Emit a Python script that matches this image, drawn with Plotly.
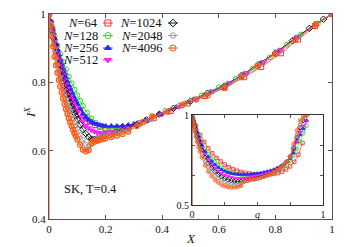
import plotly.graph_objects as go

FONT = "Liberation Serif"

# ---------------- data ----------------
sizes = ["64", "128", "256", "512", "1024", "2048", "4096"]
colors = ["#ff3030", "#22dd22", "#2828ff", "#ff20ff", "#111111", "#9a9a9a", "#ff5a14"]
symbols = ["square-open", "circle-open", "triangle-up", "triangle-down",
           "diamond-open", "pentagon-open", "circle-open-dot"]

# main panel: X and I^X
X_dense = [0, .005, .01, .015, .02, .025, .03, .035, .04, .045, .05, .055, .06, .065,
           .07, .075, .08, .085, .09, .095, .10, .11, .12, .13, .14, .15, .16, .17,
           .18, .19, .20, .22, .24, .26, .28]

X_64 = [0, .012, .025, .038, .05, .065, .08, .095, .11, .128, .145, .163, .18, .2, .225,
        .25, .28, .32, .37, .43, .49, .55, .62, .69, .75, .82, .88, .94, 1.0]
I_64 = [1.0, .955, .905, .855, .812, .782, .757, .738, .72, .698, .685, .675, .67, .666,
        .665, .666, .669, .68, .695, .716, .738, .76, .784, .815, .845, .885, .925, .965, 1.0]

X_128 = [0, .01, .02, .03, .04, .05, .06, .07, .08, .09, .10, .11, .12, .135, .15, .165,
         .18, .20, .22, .24, .26, .28, .31, .36, .42, .48, .54, .60, .66, .72, .78, .84,
         .89, .95, 1.0]
I_128 = [1.0, .965, .935, .908, .883, .86, .838, .817, .797, .779, .762, .746, .731, .711,
         .694, .681, .672, .666, .664, .664, .666, .669, .676, .692, .714, .738, .762, .785,
         .81, .84, .873, .91, .94, .972, 1.0]

X_256_up = [.30, .34, .39, .45, .51, .57, .63, .69, .75, .81, .87, .94, 1.0]
I_256 = [1.0, .981, .963, .945, .928, .912, .896, .881, .866, .852, .839, .826, .814, .802,
         .791, .781, .771, .761, .752, .744, .736, .721, .708, .698, .69, .684, .68, .677,
         .675, .673, .672, .672, .672, .673, .675,
         .678, .69, .707, .728, .75, .772, .796, .826, .858, .892, .93, .97, 1.0]

X_512_up = [.31, .35, .40, .46, .52, .58, .64, .70, .76, .82, .88, .94, 1.0]
I_512 = [1.0, .978, .957, .937, .918, .9, .883, .866, .85, .835, .821, .807, .794, .782,
         .77, .759, .749, .739, .73, .721, .713, .698, .685, .674, .666, .66, .656, .653,
         .652, .652, .653, .655, .658, .662, .667,
         .675, .688, .706, .728, .751, .774, .798, .828, .86, .896, .934, .968, 1.0]

X_1024_up = [.31, .345, .39, .44, .50, .56, .62, .68, .74, .80, .86, .92, .97, 1.0]
I_1024 = [1.0, .975, .952, .93, .909, .889, .87, .852, .835, .819, .804, .79, .777, .764,
          .752, .741, .73, .72, .71, .701, .692, .676, .662, .65, .64, .634, .633, .635,
          .638, .641, .644, .649, .654, .659, .665,
          .676, .69, .707, .724, .745, .768, .789, .82, .852, .886, .922, .958, .985, 1.0]

X_2048_up = [.32, .36, .41, .46, .51, .57, .63, .69, .75, .81, .88, .94, 1.0]
I_2048 = [1.0, .97, .945, .92, .895, .872, .851, .832, .814, .797, .781, .766, .752, .739,
          .727, .715, .704, .693, .683, .673, .664, .647, .632, .619, .614, .618, .63, .636,
          .64, .643, .646, .65, .654, .658, .663,
          .677, .692, .717, .733, .75, .77, .793, .824, .857, .89, .932, .968, 1.0]

X_4096_up = [.31, .333, .365, .42, .47, .52, .56, .62, .68, .737, .80, .87, .943, 1.0]
I_4096 = [1.0, .965, .935, .905, .875, .85, .828, .807, .788, .77, .753, .737, .722, .708,
          .695, .683, .672, .661, .651, .642, .633, .617, .603, .598, .602, .622, .626, .629,
          .632, .634, .636, .64, .644, .649, .656,
          .672, .684, .70, .714, .733, .75, .762, .785, .815, .848, .883, .925, .97, 1.0]

main_X = [X_64, X_128, X_dense + X_256_up, X_dense + X_512_up, X_dense + X_1024_up,
          X_dense + X_2048_up, X_dense + X_4096_up]
main_I = [I_64, I_128, I_256, I_512, I_1024, I_2048, I_4096]

# inset: I^X versus q
q_64 = [0, .031, .063, .094, .125, .156, .188, .219, .25, .281, .313, .344, .375, .406,
        .438, .469, .5, .531, .563, .594, .625, .656, .688, .719, .75, .781, .813, .844]
Iq_64 = [1.0, .94, .89, .85, .815, .787, .762, .742, .725, .711, .7, .691, .684, .679,
         .675, .672, .67, .669, .669, .67, .673, .678, .686, .698, .715, .74, .78, .845]

q_grid = [0, .005, .01, .015, .02, .03, .04, .05, .06, .075, .1, .125, .15, .175, .2, .225,
          .25, .275, .3, .325, .35, .375, .4, .425, .45, .475, .5, .525, .55, .575, .6,
          .625, .65, .675, .7, .725, .75, .775, .8, .825, .85, .875]
Iq_128 = [1.0, .987, .975, .964, .953, .932, .912, .893, .875, .85, .815, .785, .76, .74,
          .722, .708, .697, .688, .681, .676, .672, .669, .667, .666, .666, .667, .668, .67,
          .673, .677, .682, .688, .695, .703, .713, .726, .745, .775, .81, .855, .9, .94]
Iq_256 = [1.0, .985, .972, .96, .948, .925, .902, .88, .86, .833, .797, .767, .743, .724,
          .709, .697, .688, .681, .676, .673, .671, .67, .67, .671, .672, .674, .676, .679,
          .683, .687, .692, .698, .706, .715, .726, .74, .76, .79, .85, .89, .925, .97]
Iq_512 = [1.0, .983, .968, .955, .942, .915, .89, .868, .848, .82, .782, .751, .726, .706,
          .69, .677, .667, .66, .654, .65, .648, .648, .649, .651, .654, .657, .661, .665,
          .67, .675, .682, .69, .699, .71, .724, .742, .765, .805, .855, .905, .94, .965]
Iq_1024 = [1.0, .98, .965, .95, .935, .905, .88, .855, .833, .805, .765, .732, .706, .686,
           .67, .657, .647, .64, .635, .632, .631, .632, .634, .637, .641, .645, .649, .654,
           .66, .666, .674, .684, .695, .708, .723, .742, .77, .815, .875, .93, .97, .998]
Iq_2048 = [1.0, .978, .96, .942, .925, .893, .865, .838, .815, .785, .742, .708, .683, .663,
           .648, .636, .627, .62, .615, .613, .613, .616, .63, .634, .638, .642, .646, .651,
           .657, .664, .672, .682, .694, .707, .722, .741, .768, .825, .89, .945, .985, 1.0]
Iq_4096 = [1.0, .975, .955, .935, .915, .88, .85, .822, .798, .765, .72, .685, .66, .64,
           .625, .613, .605, .60, .597, .597, .60, .606, .632, .636, .64, .643, .646, .652,
           .658, .665, .673, .683, .695, .708, .723, .742, .772, .84, .915, .97, .995, 1.0]

inset_q = [q_64] + [q_grid] * 6
inset_I = [Iq_64, Iq_128, Iq_256, Iq_512, Iq_1024, Iq_2048, Iq_4096]

x_ticks = [0, 0.2, 0.4, 0.6, 0.8, 1]
x_ticklabels = ["0", "0.2", "0.4", "0.6", "0.8", "1"]
y_ticks = [0.4, 0.6, 0.8, 1]
y_ticklabels = ["0.4", "0.6", "0.8", "1"]
q_ticks = [0, 0.25, 0.5, 0.75, 1]
q_ticklabels = ["0", " ", "<i>q</i>", " ", "1"]
iy_ticks = [0.5, 0.6667, 0.8333, 1]
iy_ticklabels = ["0.5", " ", " ", "1"]

# ---------------- figure ----------------
fig = go.Figure()

for i in range(len(sizes)):
    fig.add_trace(go.Scatter(
        x=main_X[i], y=main_I[i], mode="lines+markers",
        line=dict(color=colors[i], width=0.8),
        marker=dict(symbol=symbols[i], size=5, color=colors[i],
                    line=dict(color=colors[i], width=1.3 if i == 6 else 1)),
        xaxis="x", yaxis="y", showlegend=False, hoverinfo="skip"))

for i in range(len(sizes)):
    fig.add_trace(go.Scatter(
        x=inset_q[i], y=inset_I[i], mode="lines+markers",
        line=dict(color=colors[i], width=0.7),
        marker=dict(symbol=symbols[i], size=3.5, color=colors[i],
                    line=dict(color=colors[i], width=0.9)),
        xaxis="x2", yaxis="y2", showlegend=False, hoverinfo="skip"))

# legend keys (text left of symbol, two columns); key axes x3/y3 span the main plot area
col_text = [0.177, 0.403]
col_key = [0.208, 0.438]
row_y = [0.956, 0.895, 0.834, 0.776]
annotations = []
for i, n in enumerate(sizes):
    c, r = divmod(i, 4)
    annotations.append(dict(x=col_text[c], y=row_y[r], xref="paper", yref="paper",
                            text="<i>N</i>=" + n, showarrow=False, xanchor="right",
                            yanchor="middle", borderpad=0,
                            font=dict(family=FONT, size=12.5, color="#111")))
    fig.add_trace(go.Scatter(
        x=[col_key[c]], y=[row_y[r]], mode="markers",
        marker=dict(symbol="line-ew", size=7, line=dict(color=colors[i], width=1)),
        xaxis="x3", yaxis="y3", showlegend=False, hoverinfo="skip", cliponaxis=False))
    fig.add_trace(go.Scatter(
        x=[col_key[c]], y=[row_y[r]], mode="markers",
        marker=dict(symbol=symbols[i], size=6, color=colors[i],
                    line=dict(color=colors[i], width=1)),
        xaxis="x3", yaxis="y3", showlegend=False, hoverinfo="skip", cliponaxis=False))

annotations += [
    dict(x=0.045, y=0.487, xref="x", yref="y", text="SK, T=0.4", showarrow=False,
         xanchor="left", yanchor="middle", font=dict(family=FONT, size=12.5, color="#111")),
    dict(x=-0.067, y=0.517, xref="paper", yref="paper",
         text="<i>I</i><sup><i>X</i></sup>", showarrow=False, textangle=-90,
         xanchor="center", yanchor="middle", font=dict(family=FONT, size=13, color="#111")),
    dict(x=0.5, y=-0.093, xref="paper", yref="paper", text="<i>X</i>", showarrow=False,
         xanchor="center", yanchor="middle", font=dict(family=FONT, size=13, color="#111")),
]

axis_common = dict(showgrid=False, zeroline=False, showline=True, ticks="inside",
                   mirror="ticks", automargin=False)
small_font = dict(family=FONT, size=10, color="#111")
big_font = dict(family=FONT, size=11, color="#111")

fig.update_layout(
    width=353, height=247, autosize=False,
    margin=dict(l=49, r=21, t=14, b=28, autoexpand=False),
    paper_bgcolor="white", plot_bgcolor="white",
    font=dict(family=FONT, color="#111"),
    xaxis=dict(domain=[0, 1], range=[0, 1], tickvals=x_ticks, ticktext=x_ticklabels,
               linecolor="#555", linewidth=1, ticklen=4, tickcolor="#555",
               tickfont=big_font, **axis_common),
    yaxis=dict(domain=[0, 1], range=[0.4, 1], tickvals=y_ticks, ticktext=y_ticklabels,
               linecolor="#555", linewidth=1, ticklen=4, tickcolor="#555",
               tickfont=big_font, **axis_common),
    xaxis2=dict(domain=[0.505, 0.968], anchor="y2", range=[0, 1], tickvals=q_ticks,
                ticktext=q_ticklabels, linecolor="#333", linewidth=1, ticklen=3,
                tickcolor="#555", tickfont=small_font, **axis_common),
    yaxis2=dict(domain=[0.068, 0.507], anchor="x2", range=[0.5, 1], tickvals=iy_ticks,
                ticktext=iy_ticklabels, linecolor="#333", linewidth=1, ticklen=3,
                tickcolor="#555", tickfont=small_font, **axis_common),
    xaxis3=dict(overlaying="x", anchor="y3", range=[0, 1], visible=False, automargin=False),
    yaxis3=dict(overlaying="y", anchor="x3", range=[0, 1], visible=False, automargin=False),
    annotations=annotations,
    shapes=[
        dict(type="rect", xref="x2", yref="y2", x0=0, x1=1, y0=0.5, y1=1,
             fillcolor="white", line=dict(width=0), layer="below"),
        dict(type="line", xref="x", yref="y", x0=0, x1=0, y0=0.4, y1=1,
             line=dict(color="#ff6a2a", width=1.2), layer="above"),
        dict(type="line", xref="x2", yref="y2", x0=0, x1=0, y0=0.5, y1=1,
             line=dict(color="#7a2a0a", width=1.2), layer="above"),
    ],
)

fig.write_html("out.html", config={"displayModeBar": False},
               post_script="document.body.style.margin='0';")
